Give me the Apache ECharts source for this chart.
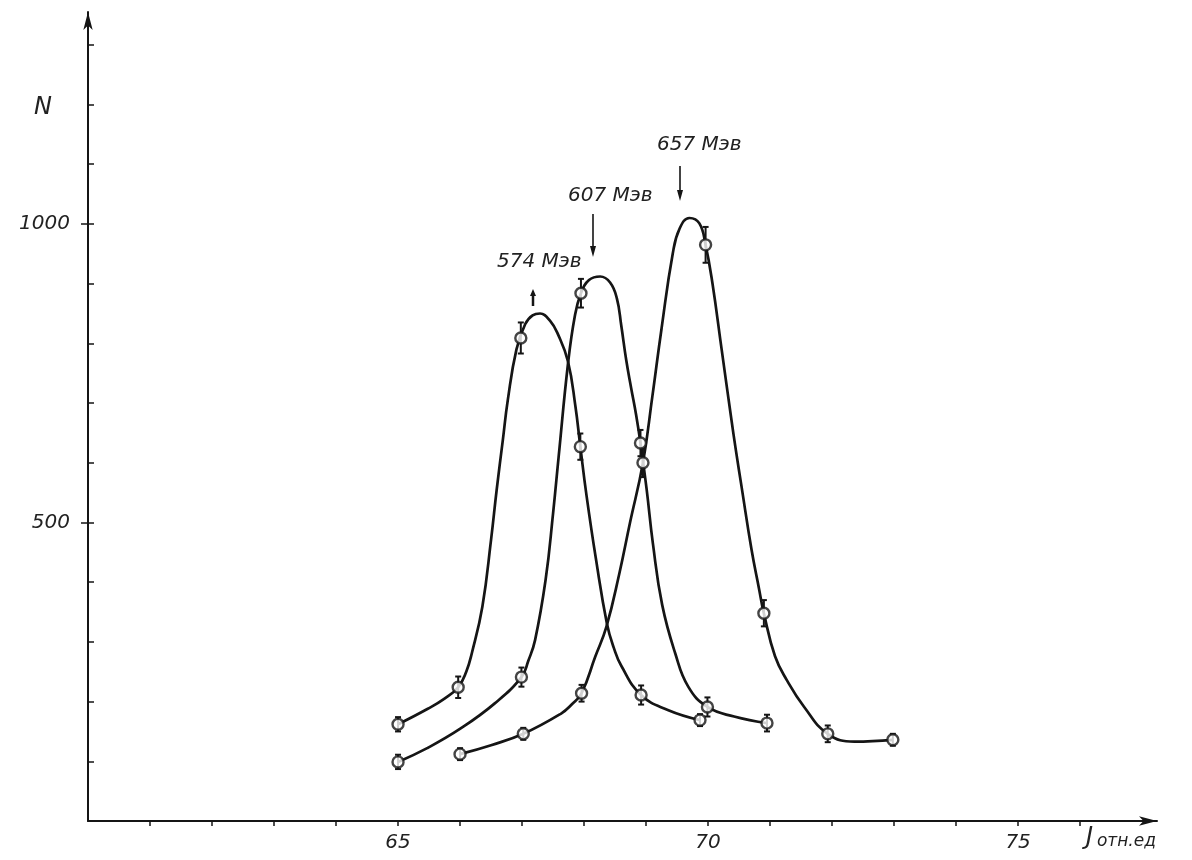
<!DOCTYPE html>
<html>
<head>
<meta charset="utf-8" />
<title>N(J)</title>
<script src="https://cdn.jsdelivr.net/npm/echarts@6/dist/echarts.min.js"></script>
<style>
  html, body { margin: 0; padding: 0; background: #fff; }
  #chart { width: 1192px; height: 860px; }
</style>
</head>
<body>
<div id="chart"></div>
<script>
var pts574 = [[65, 162], [65.97, 224], [66.98, 809], [67.94, 627], [68.92, 211], [69.87, 169]];
var pts607 = [[65, 99], [66.99, 241], [67.95, 884], [68.91, 633], [69.99, 191], [70.95, 164]];
var pts657 = [[66, 112], [67.02, 146], [67.96, 214], [68.95, 600], [69.96, 965], [70.9, 348], [71.93, 146], [72.98, 136]];
// half length of the small error bars, same order as the points
var err574 = [12, 18, 26, 22, 16, 10];
var err607 = [12, 16, 24, 22, 16, 14];
var err657 = [10, 10, 14, 24, 30, 22, 14, 10];

// hand drawn curves
var line574 = [[65, 162], [65.48, 188], [65.75, 205], [65.97, 224], [66.1, 250], [66.19, 281], [66.36, 359],
  [66.5, 471], [66.59, 554], [66.69, 638], [66.77, 705], [66.91, 790], [67.05, 832], [67.17, 847], [67.29, 850],
  [67.45, 838], [67.58, 815], [67.74, 770], [67.86, 695], [67.94, 627], [68.04, 545], [68.19, 440], [68.37, 330],
  [68.48, 290], [68.6, 260], [68.92, 211], [69.35, 186], [69.87, 169]];
var line607 = [[65, 99], [65.47, 122], [66.01, 155], [66.56, 197], [66.99, 241], [67.1, 268], [67.21, 303],
  [67.38, 404], [67.5, 515], [67.59, 610], [67.74, 765], [67.85, 845], [67.95, 884], [68.08, 906], [68.26, 912],
  [68.42, 902], [68.53, 875], [68.6, 830], [68.68, 772], [68.76, 725], [68.84, 680], [68.91, 633], [69.01, 555],
  [69.11, 465], [69.26, 362], [69.47, 281], [69.68, 225], [69.99, 191], [70.42, 175], [70.95, 164]];
var line657 = [[66, 112], [66.5, 127], [67.02, 146], [67.63, 180], [67.8, 195], [67.96, 214], [68.18, 275],
  [68.36, 325], [68.57, 415], [68.74, 499], [68.95, 600], [69.1, 710], [69.25, 825], [69.43, 950], [69.54, 992],
  [69.7, 1010], [69.86, 1001], [69.96, 965], [70.07, 901], [70.22, 789], [70.37, 677], [70.45, 620], [70.54, 560],
  [70.7, 455], [70.82, 390], [70.9, 348], [71.08, 276], [71.27, 236], [71.55, 191], [71.93, 146], [72.36, 133],
  [72.98, 136]];

var xTicks = [61, 62, 63, 64, 65, 66, 67, 68, 69, 70, 71, 72, 73, 74, 75, 76];
var xLabels = [65, 70, 75];
var yTicks = [100, 200, 300, 400, 500, 600, 700, 800, 900, 1000, 1100, 1200, 1300];
var yLabels = [500, 1000];
var peakNames = ['574 Мэв', '607 Мэв', '657 Мэв'];

var ink = '#151515';
var font = "'DejaVu Sans', 'Liberation Sans', sans-serif";

function curve(data) {
  return {
    type: 'line', data: data, showSymbol: false, symbol: 'none',
    smooth: 0.45, silent: true, z: 2,
    lineStyle: { color: ink, width: 2.7 }
  };
}
function dots(data) {
  return {
    type: 'scatter', data: data, symbol: 'circle', symbolSize: 11, z: 4, silent: true,
    itemStyle: { color: '#fff', borderColor: ink, borderWidth: 2.4 }
  };
}
function bars(pts, err) {
  var data = pts.map(function (p, i) { return [p[0], p[1] - err[i], p[1] + err[i]]; });
  return {
    type: 'custom', data: data, z: 3, silent: true,
    renderItem: function (params, api) {
      var lo = api.coord([api.value(0), api.value(1)]);
      var hi = api.coord([api.value(0), api.value(2)]);
      var st = { stroke: ink, lineWidth: 2 };
      return { type: 'group', children: [
        { type: 'line', shape: { x1: lo[0], y1: lo[1], x2: hi[0], y2: hi[1] }, style: st },
        { type: 'line', shape: { x1: lo[0] - 3, y1: lo[1], x2: lo[0] + 3, y2: lo[1] }, style: st },
        { type: 'line', shape: { x1: hi[0] - 3, y1: hi[1], x2: hi[0] + 3, y2: hi[1] }, style: st }
      ] };
    }
  };
}
function arrowDown(x, y1, y2) {
  return [
    { type: 'line', shape: { x1: x, y1: y1, x2: x, y2: y2 - 6 }, style: { stroke: ink, lineWidth: 1.6 } },
    { type: 'polygon', shape: { points: [[x - 3, y2 - 11], [x + 3, y2 - 11], [x, y2]] }, style: { fill: ink } }
  ];
}
function plain(v) { return String(v); }

var chart = echarts.init(document.getElementById('chart'));
chart.setOption({
  animation: false,
  backgroundColor: '#fff',
  grid: { left: 88, right: 35, top: 12, bottom: 39 },
  xAxis: {
    type: 'value', min: 60, max: 77.24, interval: 1,
    splitLine: { show: false },
    axisLine: { lineStyle: { color: ink, width: 2 }, symbol: ['none', 'arrow'], symbolSize: [7, 18] },
    axisTick: { inside: false, length: 5, customValues: xTicks, lineStyle: { color: ink, width: 1.5 } },
    axisLabel: {
      margin: 12, color: '#222', fontSize: 20, fontStyle: 'italic', fontFamily: font,
      customValues: xLabels, formatter: plain
    }
  },
  yAxis: [{
    type: 'value', min: 0, max: 1355, interval: 100,
    splitLine: { show: false },
    axisLine: { lineStyle: { color: ink, width: 2 }, symbol: ['none', 'arrow'], symbolSize: [7, 18] },
    axisTick: { inside: true, length: 6, customValues: yTicks, lineStyle: { color: ink, width: 1.5 } },
    axisLabel: { show: false }
  }, {
    type: 'value', min: 0, max: 1355, interval: 500, position: 'left',
    splitLine: { show: false },
    axisLine: { show: false },
    axisTick: { inside: false, length: 7, customValues: yLabels, lineStyle: { color: ink, width: 1.5 } },
    axisLabel: {
      margin: 18, color: '#222', fontSize: 20, fontStyle: 'italic', fontFamily: font,
      customValues: yLabels, formatter: plain
    }
  }],
  series: [
    curve(line574), curve(line607), curve(line657),
    bars(pts574, err574), bars(pts607, err607), bars(pts657, err657),
    dots(pts574), dots(pts607), dots(pts657)
  ],
  graphic: [
    { type: 'text', left: 34, top: 96, style: { text: 'N', fontSize: 24, fontStyle: 'italic', fontFamily: font, fill: '#222' } },
    { type: 'text', left: 1086, top: 826, style: {
      text: '{a|J} {b|отн.ед}', fontFamily: font, fill: '#222',
      rich: { a: { fontSize: 24, fontStyle: 'italic', fontFamily: font }, b: { fontSize: 17, fontStyle: 'italic', fontFamily: font, padding: [8, 0, 0, 0] } }
    } },
    { type: 'text', left: 497, top: 252, style: { text: peakNames[0], fontSize: 20, fontStyle: 'italic', fontFamily: font, fill: '#222' } },
    { type: 'text', left: 568, top: 186, style: { text: peakNames[1], fontSize: 20, fontStyle: 'italic', fontFamily: font, fill: '#222' } },
    { type: 'text', left: 657, top: 135, style: { text: peakNames[2], fontSize: 20, fontStyle: 'italic', fontFamily: font, fill: '#222' } },
    { type: 'line', shape: { x1: 533, y1: 293, x2: 533, y2: 306 }, style: { stroke: ink, lineWidth: 2.5 } },
    { type: 'polygon', shape: { points: [[530, 296], [536, 296], [533, 289]] }, style: { fill: ink } }
  ].concat(arrowDown(593, 214, 257), arrowDown(680, 166, 201))
});
</script>
</body>
</html>
